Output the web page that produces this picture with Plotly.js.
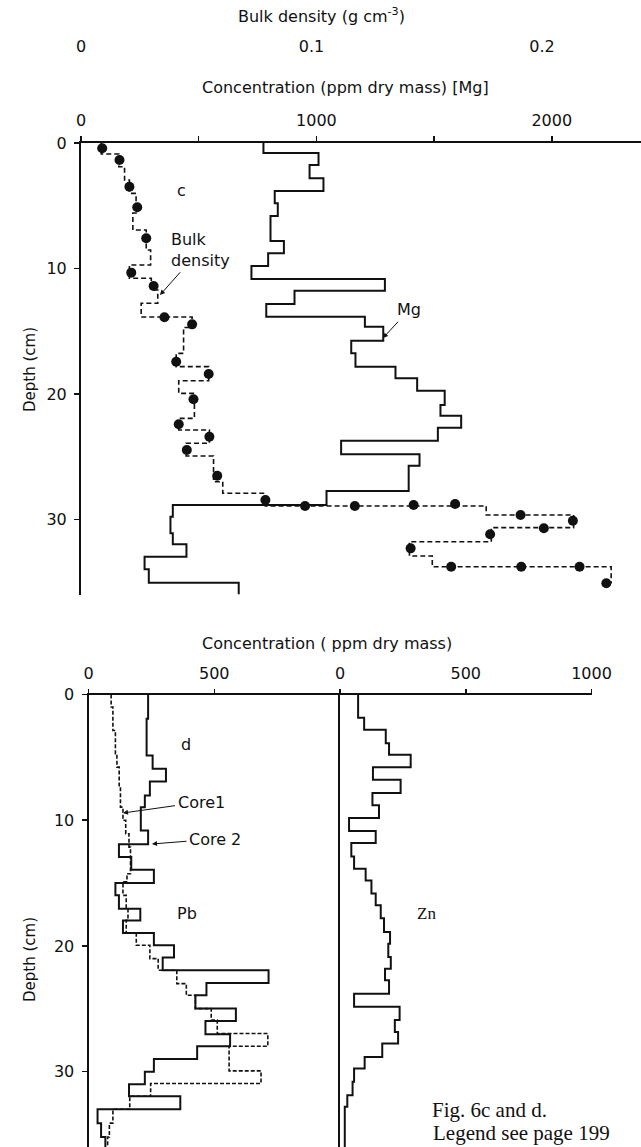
<!DOCTYPE html>
<html><head><meta charset="utf-8">
<script src="https://cdn.plot.ly/plotly-3.0.1.min.js"></script>
<style>html,body{margin:0;padding:0;background:#fff}#chart{width:641px;height:1147px}</style>
</head><body><div id="chart"></div>
<script>
// ---------- Panel c : Mg concentration (ppm) and bulk density (g cm-3) vs depth (cm)
const mgDepthBounds = [0,0.8,1.75,2.81,3.82,4.8,5.82,7.81,8.79,9.8,10.84,11.77,12.83,13.84,14.64,15.75,16.76,17.82,18.75,19.74,20.88,21.73,22.69,23.72,24.8,25.71,27.73,28.84,29.78,31.1,31.98,32.96,33.97,35.04,35.96];
const mgValues = [775,1009,971,1030,823,836,805,862,795,724,1291,907,787,1206,1284,1148,1166,1336,1428,1545,1527,1615,1516,1105,1438,1392,1043,390,380,390,448,270,288,670];

const bdDepthBounds = [0,0.88,1.89,2.95,4.01,5.58,6.93,8.53,9.72,10.78,11.71,12.77,13.86,14.7,16.76,17.82,18.94,19.95,21.94,22.87,23.93,24.94,26.99,27.91,28.92,29.64,30.65,31.77,32.91,33.76,35.08];
const bdValues = [0.0088,0.0164,0.0189,0.0210,0.0239,0.0225,0.0283,0.0302,0.0210,0.0305,0.0333,0.0261,0.0482,0.0445,0.0413,0.0554,0.0424,0.0492,0.0424,0.0557,0.0456,0.0575,0.0615,0.0800,0.1758,0.2137,0.1780,0.1425,0.1524,0.2300];

const bdPointDepth = [0.42,1.35,3.48,5.12,7.59,10.33,11.39,13.89,14.45,17.43,18.41,20.42,22.41,23.40,24.46,26.51,28.45,28.92,28.92,28.84,28.76,29.64,30.10,30.70,31.18,32.30,33.76,33.76,33.76,35.08];
const bdPointValue = [0.0092,0.0167,0.0210,0.0244,0.0283,0.0218,0.0315,0.0362,0.0482,0.0413,0.0554,0.0488,0.0424,0.0557,0.0459,0.0591,0.0800,0.0972,0.1188,0.1443,0.1623,0.1907,0.2134,0.2008,0.1775,0.1430,0.1606,0.1910,0.2163,0.2279];

const mgTickVals = [0,1000,2000];
const mgMinorTickVals = [500,1500];
const bdTickVals = [0,0.1,0.2];
const bdTickText = ['0','0.1','0.2'];
const depthTickVals = [0,10,20,30];

// ---------- Panel d : Pb (two cores) and Zn concentration (ppm) vs depth (cm)
const pbCore2Bounds = [0,1.93,4.85,5.9,6.92,8.03,8.96,10.81,11.92,12.93,13.94,15.0,15.98,17.04,17.97,18.97,19.95,20.93,21.94,22.95,23.93,24.99,25.97,27.03,27.98,29.0,30.02,31.0,31.96,33.0,34.1,35.2,36];
const pbCore2Values = [237,231,255,308,244,224,208,237,121,170,260,107,121,206,137,260,340,295,716,469,425,586,465,563,432,260,224,161,365,36,50,67];

const pbCore1Bounds = [0,1.0,2.86,4.7,5.78,7.37,8.96,10.0,11.08,12.14,14.26,14.9,15.98,17.04,17.97,18.97,19.95,21.01,21.94,23.0,23.93,24.99,25.9,26.97,27.98,29.94,30.95,31.96,33.0,34.1,35.2,36];
const pbCore1Values = [90,97,107,113,122,127,137,148,161,167,153,137,150,157,150,190,244,277,351,389,425,488,512,713,559,686,247,164,97,83,76];

const znBounds = [0,1.85,2.81,3.87,4.80,5.78,6.78,7.84,8.82,9.83,10.86,11.82,12.88,13.86,14.79,15.84,16.77,17.8,18.89,19.82,20.88,21.81,22.73,23.8,24.85,25.9,26.85,27.77,28.83,29.76,30.8,31.88,32.8,36];
const znValues = [72,96,182,195,281,131,241,129,155,36,142,45,56,102,125,142,162,175,199,192,202,179,195,56,237,218,231,168,98,56,50,29,19];

const pbTickVals = [0,500];
const znTickVals = [0,500,1000];

// ---------- helpers
const W = 641, H = 1147;
const px = v => v / W;            // pixel -> paper x
const py = v => 1 - v / H;        // pixel -> paper y
function steps(bounds, vals) {
  const x = [], y = [];
  for (let i = 0; i < vals.length; i++) {
    x.push(vals[i], vals[i]);
    y.push(bounds[i], bounds[i + 1]);
  }
  return {x, y};
}

const FONT = 'DejaVu Sans, Liberation Sans, sans-serif';
const SERIF = 'Liberation Serif, DejaVu Serif, serif';
const ink = '#111';

const mg = steps(mgDepthBounds, mgValues);
const bd = steps(bdDepthBounds, bdValues);
const pb1 = steps(pbCore1Bounds, pbCore1Values);
const pb2 = steps(pbCore2Bounds, pbCore2Values);
const zn = steps(znBounds, znValues);

const traces = [
  {x: mg.x, y: mg.y, xaxis: 'x', yaxis: 'y', mode: 'lines', line: {color: ink, width: 2}, hoverinfo: 'skip'},
  {x: bd.x, y: bd.y, xaxis: 'x2', yaxis: 'y', mode: 'lines', line: {color: ink, width: 1.6, dash: '5px,3px'}, hoverinfo: 'skip'},
  {x: bdPointValue, y: bdPointDepth, xaxis: 'x2', yaxis: 'y', mode: 'markers', marker: {color: ink, size: 10}, hoverinfo: 'skip'},
  {x: pb1.x, y: pb1.y, xaxis: 'x3', yaxis: 'y2', mode: 'lines', line: {color: ink, width: 1.6, dash: '4px,2px'}, hoverinfo: 'skip'},
  {x: pb2.x, y: pb2.y, xaxis: 'x3', yaxis: 'y2', mode: 'lines', line: {color: ink, width: 2}, hoverinfo: 'skip'},
  {x: zn.x, y: zn.y, xaxis: 'x4', yaxis: 'y3', mode: 'lines', line: {color: ink, width: 2}, hoverinfo: 'skip'}
];

const axBase = {showgrid: false, zeroline: false, linecolor: ink, linewidth: 2, tickcolor: ink, tickwidth: 1.5,
  tickfont: {family: FONT, size: 16, color: ink}, fixedrange: true};

const topY0 = 143, topY1 = 595, topPxPerCm = 12.55;
const botY0 = 694.5, botPxPerCm = 12.57;
const mgX0 = 81, mgPxPer1000 = 235.4, bdPxPer01 = 230.5;

function label(text, x, y, opts) {
  return Object.assign({text: text, x: px(x), y: py(y), xref: 'paper', yref: 'paper', showarrow: false,
    xanchor: 'center', yanchor: 'middle', font: {family: FONT, size: 16, color: ink}}, opts || {});
}
function pointer(text, headX, headY, textX, textY, opts) {
  return Object.assign({text: text, x: px(headX), y: py(headY), xref: 'paper', yref: 'paper',
    ax: textX - headX, ay: textY - headY, showarrow: true, arrowhead: 2, arrowsize: 1, arrowwidth: 1,
    arrowcolor: ink, standoff: 0, startstandoff: 1, xanchor: 'center', yanchor: 'middle',
    font: {family: FONT, size: 16, color: ink}}, opts || {});
}

const layout = {
  width: W, height: H, margin: {l: 0, r: 0, t: 0, b: 0},
  paper_bgcolor: '#fff', plot_bgcolor: 'rgba(0,0,0,0)', showlegend: false,
  xaxis: Object.assign({}, axBase, {domain: [px(mgX0), 1], range: [0, (W - mgX0) / mgPxPer1000 * 1000], anchor: 'y', side: 'top',
    showline: true, ticks: 'outside', ticklen: 5, tickvals: mgTickVals, ticklabelstandoff: 4,
    minor: {tickmode: 'array', tickvals: mgMinorTickVals, ticks: 'outside', ticklen: 5, tickwidth: 1.5, tickcolor: ink, showgrid: false}}),
  xaxis2: Object.assign({}, axBase, {domain: [px(mgX0), 1], range: [0, (W - mgX0) / bdPxPer01 * 0.1], overlaying: 'x', anchor: 'free',
    position: py(55), side: 'top', showline: false, ticks: '', tickvals: bdTickVals, ticktext: bdTickText}),
  yaxis: Object.assign({}, axBase, {domain: [py(topY1), py(topY0)], range: [(topY1 - topY0) / topPxPerCm, 0], anchor: 'x',
    showline: true, ticks: 'outside', ticklen: 5, tickvals: depthTickVals, ticklabelstandoff: 4}),
  xaxis3: Object.assign({}, axBase, {domain: [px(88.5), px(340)], range: [0, 1000], anchor: 'y2', side: 'top',
    showline: true, ticks: 'outside', ticklen: 4, tickvals: pbTickVals, ticklabelstandoff: 3}),
  xaxis4: Object.assign({}, axBase, {domain: [px(340), px(591.5)], range: [0, 1000], anchor: 'y3', side: 'top',
    showline: true, ticks: 'outside', ticklen: 4, tickvals: znTickVals, ticklabelstandoff: 3}),
  yaxis2: Object.assign({}, axBase, {domain: [0, py(botY0)], range: [(H - botY0) / botPxPerCm, 0], anchor: 'x3',
    showline: true, ticks: 'outside', ticklen: 5, tickvals: depthTickVals, ticklabelstandoff: 4}),
  yaxis3: Object.assign({}, axBase, {domain: [0, py(botY0)], range: [(H - botY0) / botPxPerCm, 0], anchor: 'x4', overlaying: 'y2',
    showline: true, ticks: '', showticklabels: false}),
  annotations: [
    label('Bulk density (g cm<sup>-3</sup>)', 321, 16),
    label('Concentration (ppm dry mass) [Mg]', 345, 88),
    label('Depth (cm)', 30, 370, {textangle: -90, font: {family: FONT, size: 15, color: ink}}),
    label('c', 181, 190),
    pointer('Bulk<br>density', 160, 295, 200, 250, {align: 'left'}),
    pointer('Mg', 383, 338, 409, 310),

    label('Concentration ( ppm dry mass)', 327, 643),
    label('Depth (cm)', 30, 960, {textangle: -90, font: {family: FONT, size: 15, color: ink}}),
    label('d', 186, 744),
    pointer('Core1', 123, 813, 201, 802),
    pointer('Core 2', 152, 844, 215, 839),
    label('Pb', 187, 913),
    label('Zn', 426, 913, {font: {family: SERIF, size: 17, color: ink}}),
    label('Fig. 6c and d.', 430, 1110, {xanchor: 'left', font: {family: SERIF, size: 21, color: ink}}),
    label('Legend see page 199', 431, 1133, {xanchor: 'left', font: {family: SERIF, size: 21, color: ink}})
  ]
};

Plotly.newPlot('chart', traces, layout, {staticPlot: true, displayModeBar: false});
</script>
</body></html>
